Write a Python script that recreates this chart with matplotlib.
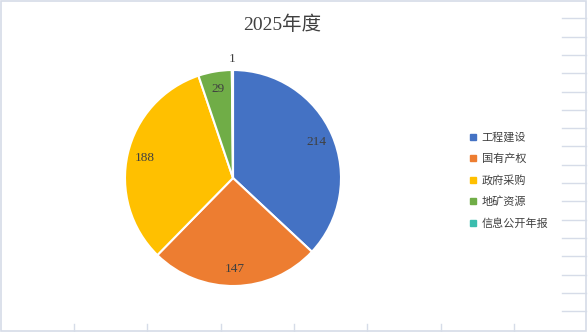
"""Pie chart of 2025 disclosures by category."""

import matplotlib

matplotlib.use("Agg")
import matplotlib.pyplot as plt
import numpy as np
from matplotlib.lines import Line2D

categories = ["工程建设", "国有产权", "政府采购", "地矿资源", "信息公开年报"]
values = [214, 147, 188, 29, 1]
colors = ["#4472C4", "#ED7D31", "#FFC000", "#70AD47", "#3BBDAE"]
title = "2025年度"

W, H = 588, 332
CJK = ["Noto Sans CJK SC", "DejaVu Sans"]
SERIF = ["Liberation Serif", "Noto Sans CJK SC"]
GRID = "#D6DCE8"

fig = plt.figure(figsize=(W / 100, H / 100), dpi=100)


def px(x, y):
    return x / W, 1 - y / H


# spreadsheet cell lines around the chart object
for y in [18.3 + 18.31 * i for i in range(17)]:
    fig.add_artist(Line2D([562 / W, 586 / W], [px(0, y)[1]] * 2, color=GRID, lw=1))
for x in [74 + 73.3 * i for i in range(7)]:
    fig.add_artist(Line2D([x / W] * 2, [px(0, 324)[1], px(0, 331)[1]], color=GRID, lw=1))
fig.add_artist(plt.Rectangle((1 / W, 1 / H), 585 / W, 330 / H, fill=False,
                             ec=GRID, lw=1.2, transform=fig.transFigure))

# pie
cx, cy, r = 233, 178, 108
ax = fig.add_axes([(cx - r) / W, (H - cy - r) / H, 2 * r / W, 2 * r / H])
wedges, _ = ax.pie(values, colors=colors, startangle=90, counterclock=False,
                   wedgeprops=dict(edgecolor="white", linewidth=1.5))
ax.set_xlim(-1, 1)
ax.set_ylim(-1, 1)
ax.set_aspect("equal")
ax.axis("off")

total = sum(values)
for w, v in zip(wedges, values):
    ang = np.deg2rad((w.theta1 + w.theta2) / 2)
    dist = 1.1 if v / total < 0.01 else 0.84
    ax.text(dist * np.cos(ang), dist * np.sin(ang), str(v), ha="center",
            va="center", fontsize=9.5, color="#404040", family=SERIF)

fig.text(282 / W, px(0, 25)[1], title, ha="center", va="center", fontsize=14,
         color="#404040", family=SERIF)

handles = [Line2D([], [], marker="s", ls="none", markersize=3.8, color=c)
           for c in colors]
fig.legend(handles, categories, loc="upper left", bbox_to_anchor=px(470, 132),
           frameon=False, borderaxespad=0, borderpad=0, handlelength=0.6,
           handletextpad=0.45, labelspacing=0.98,
           prop=dict(family=CJK, size=8), labelcolor="#404040")

fig.savefig("out.png", dpi=100)
plt.close(fig)
